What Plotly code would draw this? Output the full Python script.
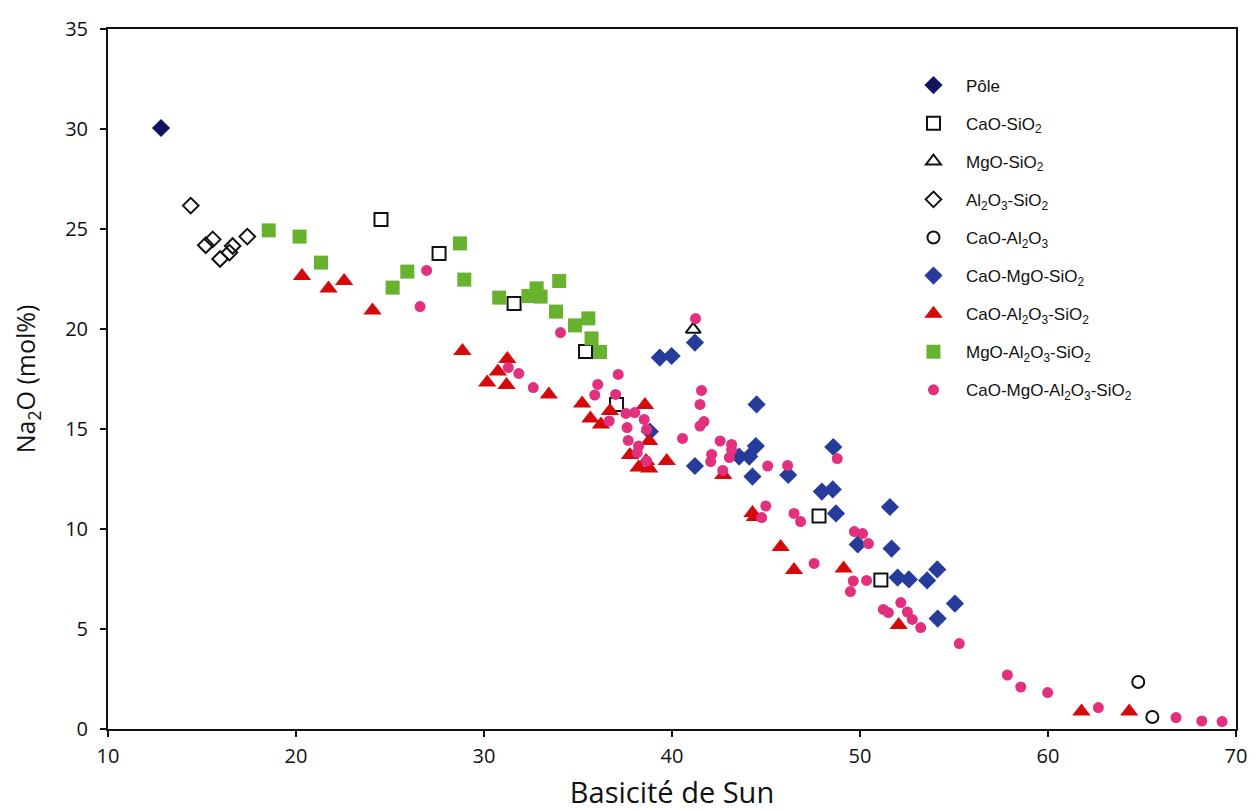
import plotly.graph_objects as go

# ---- data (Basicité de Sun, Na2O mol%) ----
pole_x = [12.82]
pole_y = [30.05]

caosio2_x = [24.52, 27.61, 31.60, 35.40, 37.05, 47.82, 51.11]
caosio2_y = [25.48, 23.77, 21.27, 18.87, 16.23, 10.65, 7.45]

mgosio2_x = [41.13]
mgosio2_y = [19.98]

al2o3sio2_x = [14.40, 15.57, 15.20, 15.96, 16.46, 16.63, 17.41]
al2o3sio2_y = [26.17, 24.48, 24.19, 23.5, 23.82, 24.15, 24.62]

caoal2o3_x = [64.80, 65.55]
caoal2o3_y = [2.35, 0.6]

cms_x = [39.35, 39.98, 41.22, 38.82, 41.22, 44.50, 44.46, 43.57, 44.11, 44.28, 46.18,
         48.58, 47.97, 48.55, 48.72, 51.59, 49.88, 51.68, 52.00, 52.60, 53.57, 54.11,
         55.05, 54.13]
cms_y = [18.57, 18.65, 19.32, 14.87, 13.15, 16.23, 14.15, 13.62, 13.62, 12.62, 12.7,
         14.1, 11.87, 11.98, 10.78, 11.1, 9.23, 9.02, 7.57, 7.48, 7.43, 7.98,
         6.27, 5.52]

cas_x = [20.32, 21.73, 22.56, 24.07, 28.85, 31.24, 30.74, 30.17, 31.20, 33.45, 35.22,
         35.66, 36.22, 36.70, 38.56, 38.79, 37.76, 38.22, 38.79, 38.62, 39.72, 42.73,
         44.41, 44.28, 45.78, 46.49, 49.13, 52.06, 61.78, 64.32]
cas_y = [22.65, 22.03, 22.4, 20.93, 18.9, 18.5, 17.87, 17.33, 17.2, 16.73, 16.27,
         15.52, 15.23, 15.9, 16.2, 14.4, 13.7, 13.07, 13.03, 13.4, 13.4, 12.7,
         10.6, 10.8, 9.1, 7.95, 8.02, 5.2, 0.87, 0.87]

mas_x = [18.55, 20.19, 21.33, 25.92, 25.14, 28.72, 28.95, 30.81, 32.80, 32.36, 33.01,
         34.00, 33.83, 34.84, 35.55, 35.72, 36.17]
mas_y = [24.93, 24.62, 23.32, 22.87, 22.07, 24.28, 22.47, 21.57, 22.03, 21.65, 21.62,
         22.4, 20.87, 20.18, 20.53, 19.53, 18.85]

cmas_x = [26.95, 26.60, 34.07, 31.29, 31.85, 32.62, 37.14, 36.05, 35.89, 37.00, 37.55,
          38.02, 38.52, 36.66, 37.61, 38.65, 37.67, 38.22, 38.15, 38.65, 40.56, 41.25,
          41.57, 41.49, 41.70, 41.49, 42.56, 43.17, 43.17, 42.11, 42.06, 43.05, 42.70,
          45.09, 46.15, 48.79, 44.99, 44.77, 46.49, 46.84, 49.70, 50.14, 50.45, 47.56,
          49.64, 49.49, 50.35, 52.17, 51.24, 51.51, 52.52, 52.78, 53.23, 55.28, 57.84,
          58.55, 59.98, 62.68, 66.81, 68.18, 69.26]
cmas_y = [22.93, 21.12, 19.82, 18.07, 17.78, 17.07, 17.73, 17.23, 16.7, 16.73, 15.78,
          15.82, 15.48, 15.4, 15.07, 14.98, 14.43, 14.15, 13.82, 13.4, 14.53, 20.52,
          16.93, 16.23, 15.37, 15.15, 14.4, 14.23, 13.95, 13.73, 13.37, 13.57, 12.93,
          13.15, 13.18, 13.52, 11.15, 10.57, 10.78, 10.37, 9.87, 9.77, 9.27, 8.28,
          7.4, 6.87, 7.43, 6.32, 5.98, 5.82, 5.85, 5.48, 5.07, 4.27, 2.7,
          2.1, 1.82, 1.07, 0.57, 0.4, 0.37]

series = [
    ("Pôle", pole_x, pole_y, dict(symbol="diamond", size=14, color="#12145e")),
    ("CaO-SiO<sub>2</sub>", caosio2_x, caosio2_y,
     dict(symbol="square-open", size=13, color="#111111", line=dict(width=2))),
    ("MgO-SiO<sub>2</sub>", mgosio2_x, mgosio2_y,
     dict(symbol="triangle-up-open", size=13, color="#111111", line=dict(width=2))),
    ("Al<sub>2</sub>O<sub>3</sub>-SiO<sub>2</sub>", al2o3sio2_x, al2o3sio2_y,
     dict(symbol="diamond-open", size=12, color="#111111", line=dict(width=2))),
    ("CaO-Al<sub>2</sub>O<sub>3</sub>", caoal2o3_x, caoal2o3_y,
     dict(symbol="circle-open", size=12, color="#111111", line=dict(width=2))),
    ("CaO-MgO-SiO<sub>2</sub>", cms_x, cms_y, dict(symbol="diamond", size=14, color="#263b9c")),
    ("CaO-Al<sub>2</sub>O<sub>3</sub>-SiO<sub>2</sub>", cas_x, cas_y,
     dict(symbol="triangle-up", size=16, color="#d50a0a")),
    ("MgO-Al<sub>2</sub>O<sub>3</sub>-SiO<sub>2</sub>", mas_x, mas_y,
     dict(symbol="square", size=14, color="#67b32e")),
    ("CaO-MgO-Al<sub>2</sub>O<sub>3</sub>-SiO<sub>2</sub>", cmas_x, cmas_y,
     dict(symbol="circle", size=11, color="#e2307f")),
]

fig = go.Figure()
for i, (name, xs, ys, mk) in enumerate(series):
    fig.add_trace(go.Scatter(x=xs, y=ys, mode="markers", name=name, marker=mk,
                             legendgroup=f"g{i}"))

axis_common = dict(showline=True, linecolor="#111111", linewidth=2, mirror=True,
                   ticks="outside", ticklen=6, tickwidth=1.5, tickcolor="#111111",
                   showgrid=False, zeroline=False, automargin=False,
                   tickfont=dict(family="Open Sans, sans-serif", size=20, color="#111111"))

fig.update_layout(
    width=1250, height=803,
    margin=dict(l=100, r=22, t=21, b=82),
    paper_bgcolor="white", plot_bgcolor="white",
    xaxis=dict(range=[10, 70], dtick=10, ticklabelstandoff=2,
               title=dict(text="Basicité de Sun", standoff=22,
                          font=dict(family="Open Sans, sans-serif", size=29, color="#111111")),
               **axis_common),
    yaxis=dict(range=[0, 35], dtick=5, ticklabelstandoff=8,
               title=dict(text="Na<sub>2</sub>O (mol%)", standoff=22,
                          font=dict(family="Open Sans, sans-serif", size=25, color="#111111")),
               **axis_common),
    legend=dict(x=0.703, y=0.945, xanchor="left", yanchor="top", traceorder="grouped",
                tracegroupgap=13, bgcolor="rgba(0,0,0,0)", itemwidth=55,
                font=dict(family="Liberation Sans, Arial, sans-serif", size=17, color="#111111")),
    showlegend=True,
)

fig.write_html("out.html")
